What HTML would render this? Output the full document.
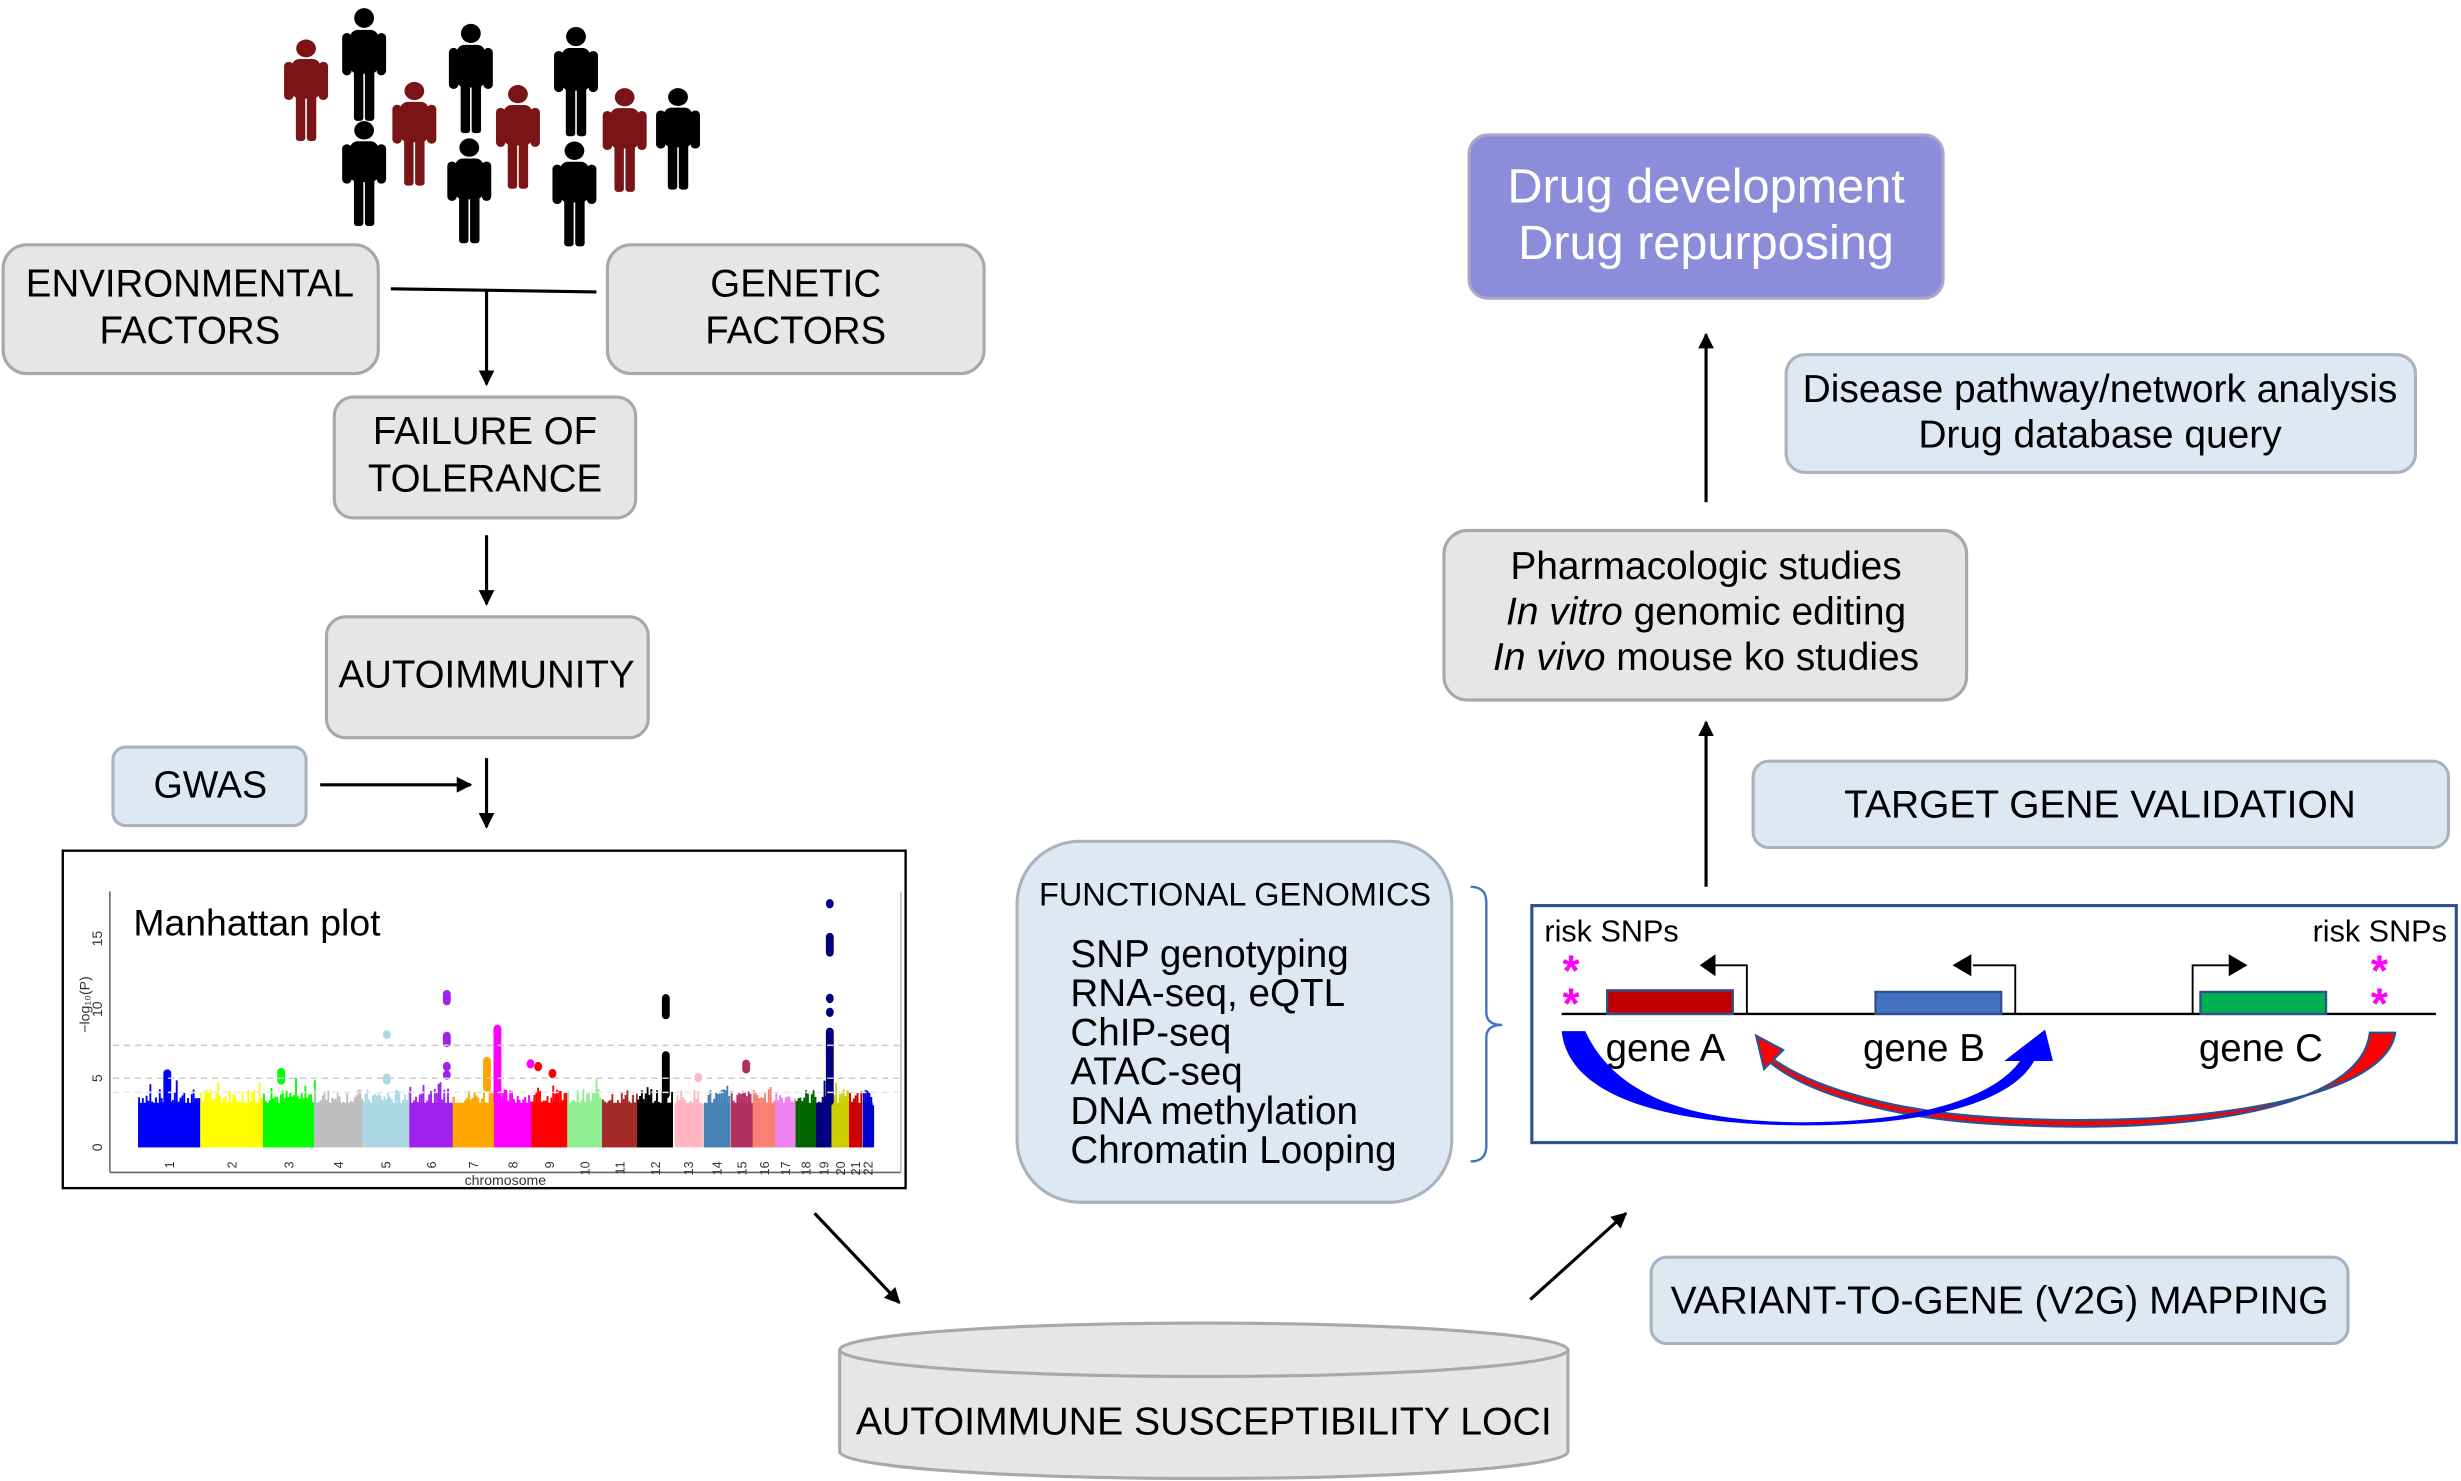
<!DOCTYPE html>
<html><head><meta charset="utf-8"><style>
html,body{margin:0;padding:0;background:#fff;}
svg{display:block;}
text{font-family:"Liberation Sans",Arial,sans-serif;}
</style></head><body>
<svg id="s" width="2461" height="1481" viewBox="0 0 1568 943.6" preserveAspectRatio="none" xmlns="http://www.w3.org/2000/svg">
<defs>
<marker id="ah" markerWidth="10" markerHeight="10" refX="9" refY="5" orient="auto" markerUnits="userSpaceOnUse" viewBox="0 0 10 10"><path d="M0,0 L10,5 L0,10 z" fill="#000"/></marker>
<g id="p">
<circle cx="14" cy="6.5" r="6.3"/>
<rect x="5" y="14" width="18" height="28" rx="5"/>
<rect x="0" y="16" width="6" height="27" rx="3"/>
<rect x="22" y="16" width="6" height="27" rx="3"/>
<rect x="7.5" y="38" width="6" height="34" rx="2"/>
<rect x="14.5" y="38" width="6" height="34" rx="2"/>
</g>
</defs>
<g fill="#000">
<use href="#p" transform="translate(218,5) scale(1,1)"/>
<use href="#p" transform="translate(286,15) scale(1,0.97)"/>
<use href="#p" transform="translate(353,17) scale(1,0.97)"/>
<use href="#p" transform="translate(418,56) scale(1,0.9)"/>
<use href="#p" transform="translate(218,77) scale(1,0.93)"/>
<use href="#p" transform="translate(285,88) scale(1,0.93)"/>
<use href="#p" transform="translate(352,90) scale(1,0.93)"/>
</g>
<g fill="#7b1416">
<use href="#p" transform="translate(181,25) scale(1,0.9)"/>
<use href="#p" transform="translate(250,52) scale(1,0.92)"/>
<use href="#p" transform="translate(316,54) scale(1,0.92)"/>
<use href="#p" transform="translate(384,56) scale(1,0.92)"/>
</g>

<g fill="#e6e6e6" stroke="#a8a8a8" stroke-width="2">
<rect x="2" y="156" width="239" height="82" rx="15"/>
<rect x="387" y="156" width="240" height="82" rx="15"/>
<rect x="213" y="253" width="192" height="77" rx="12"/>
<rect x="208" y="393" width="205" height="77" rx="12"/>
<rect x="920" y="338" width="333" height="108" rx="15"/>
</g>
<g font-size="24.5" text-anchor="middle" fill="#000">
<text x="121" y="189">ENVIRONMENTAL</text><text x="121" y="219">FACTORS</text>
<text x="507" y="189">GENETIC</text><text x="507" y="219">FACTORS</text>
<text x="309" y="283">FAILURE OF</text><text x="309" y="313">TOLERANCE</text>
<text x="310" y="438">AUTOIMMUNITY</text>
</g>
<g stroke="#000" stroke-width="2" fill="none">
<line x1="249" y1="184" x2="380" y2="186"/>
<line x1="310" y1="185" x2="310" y2="245" marker-end="url(#ah)"/>
<line x1="310" y1="341" x2="310" y2="385" marker-end="url(#ah)"/>
<line x1="204" y1="500" x2="300" y2="500" marker-end="url(#ah)"/>
<line x1="310" y1="483" x2="310" y2="527" marker-end="url(#ah)"/>
<line x1="519" y1="773" x2="573" y2="830" marker-end="url(#ah)"/>
<line x1="975" y1="828" x2="1036" y2="773" marker-end="url(#ah)"/>
<line x1="1087" y1="565" x2="1087" y2="460" marker-end="url(#ah)"/>
<line x1="1087" y1="320" x2="1087" y2="213" marker-end="url(#ah)"/>
</g>

<g fill="#dde8f3" stroke="#a9b3bf" stroke-width="2">
<rect x="72" y="476" width="123" height="50" rx="8"/>
<rect x="1052" y="801" width="444" height="55" rx="10"/>
<rect x="648" y="536" width="277" height="230" rx="40"/>
<rect x="1117" y="485" width="443" height="55" rx="10"/>
<rect x="1138" y="226" width="401" height="75" rx="12"/>
</g>
<g font-size="24.8" fill="#000">
<text x="134" y="508" text-anchor="middle" font-size="24">GWAS</text>
<text x="1274" y="837" text-anchor="middle">VARIANT-TO-GENE (V2G) MAPPING</text>
<text x="1338" y="521" text-anchor="middle">TARGET GENE VALIDATION</text>
<text x="1338" y="256" text-anchor="middle">Disease pathway/network analysis</text>
<text x="1338" y="285" text-anchor="middle">Drug database query</text>
<text x="1087" y="369" text-anchor="middle">Pharmacologic studies</text>
<text x="1087" y="398" text-anchor="middle"><tspan font-style="italic">In vitro</tspan> genomic editing</text>
<text x="1087" y="427" text-anchor="middle"><tspan font-style="italic">In vivo</tspan> mouse ko studies</text>
<text x="662" y="577" font-size="20.7">FUNCTIONAL GENOMICS</text>
<g font-size="24.6">
<text x="682" y="616">SNP genotyping</text>
<text x="682" y="641">RNA-seq, eQTL</text>
<text x="682" y="666">ChIP-seq</text>
<text x="682" y="691">ATAC-seq</text>
<text x="682" y="716">DNA methylation</text>
<text x="682" y="741">Chromatin Looping</text>
</g>
</g>
<path d="M937,565 Q947,565 947,575 L947,645 Q947,653 957,653 Q947,653 947,661 L947,730 Q947,740 937,740" fill="none" stroke="#4472c4" stroke-width="1.5"/>

<rect x="936" y="86" width="302" height="104" rx="12" fill="#8b8ddb" stroke="#a8a8c8" stroke-width="2"/>
<text x="1087" y="129" text-anchor="middle" font-size="31" fill="#fff">Drug development</text>
<text x="1087" y="165" text-anchor="middle" font-size="31" fill="#fff">Drug repurposing</text>

<path d="M535,860 L535,925 A232,17 0 0 0 999,925 L999,860" fill="#e6e6e6" stroke="#a8a8a8" stroke-width="2"/>
<ellipse cx="767" cy="860" rx="232" ry="17" fill="#e6e6e6" stroke="#a8a8a8" stroke-width="2"/>
<text x="767" y="914" text-anchor="middle" font-size="25">AUTOIMMUNE SUSCEPTIBILITY LOCI</text>

<rect x="976" y="577" width="589" height="151" fill="#fff" stroke="#2f4f8f" stroke-width="2"/>
<line x1="995" y1="646" x2="1552" y2="646" stroke="#000" stroke-width="1.5"/>
<rect x="1024" y="631" width="80" height="15" fill="#c00000" stroke="#2f4f8f" stroke-width="1.5"/>
<rect x="1195" y="632" width="80" height="14" fill="#4472c4" stroke="#2f4f8f" stroke-width="1.5"/>
<rect x="1402" y="632" width="80" height="14" fill="#00b050" stroke="#2f4f8f" stroke-width="1.5"/>
<g fill="none" stroke="#000" stroke-width="1.2">
<path d="M1113,646 L1113,615 L1092,615"/>
<path d="M1284,646 L1284,615 L1257,615"/>
<path d="M1397,646 L1397,615 L1420,615"/>
</g>
<path d="M1083,615 L1093,608 L1093,622 z"/>
<path d="M1244,615 L1256,608 L1256,622 z"/>
<path d="M1432,615 L1420,608 L1420,622 z"/>
<g font-size="19.5" fill="#000"><text x="984" y="600">risk SNPs</text><text x="1559" y="600" text-anchor="end">risk SNPs</text></g>
<g font-size="28" fill="#ff00ff" font-weight="bold" text-anchor="middle"><text x="1001" y="628">*</text><text x="1001" y="649">*</text><text x="1516" y="628">*</text><text x="1516" y="649">*</text></g>
<g font-size="24.5"><text x="1023" y="676">gene A</text><text x="1187" y="676">gene B</text><text x="1401" y="676">gene C</text></g>
<path d="M1510,658 L1526,658 C1520,700 1400,720 1270,712 C1200,708 1150,690 1130,675 L1136,669 L1119,660 L1124,681 L1128,677 C1150,695 1200,712 1270,716 C1400,724 1505,705 1510,658 z" fill="#ff0000" stroke="#2f4f8f" stroke-width="1.5"/>
<path d="M995,657 L1010,657 C1030,700 1080,715 1150,715 C1220,715 1270,700 1287,676 L1277,676 L1303,656 L1308,676 L1296,676 C1280,705 1220,717 1150,717 C1080,717 1000,705 995,657 z" fill="#0000ff"/>

<rect x="40" y="542" width="537" height="215" fill="#fff" stroke="#000" stroke-width="1.5"/>
<g id="mh"></g>
<line x1="70" y1="568" x2="70" y2="747" stroke="#666" stroke-width="1"/>
<line x1="70" y1="747" x2="574" y2="747" stroke="#666" stroke-width="1"/>
<line x1="574" y1="568" x2="574" y2="747" stroke="#bbb" stroke-width="1"/>
<g stroke="#ccc" stroke-width="1" stroke-dasharray="4,3">
<line x1="72" y1="666" x2="574" y2="666"/><line x1="72" y1="687" x2="574" y2="687"/><line x1="72" y1="696" x2="574" y2="696" stroke="#e6e6e6"/>
</g>
<g font-size="9" fill="#333" text-anchor="middle">
<text transform="translate(65,731) rotate(-90)">0</text>
<text transform="translate(65,687) rotate(-90)">5</text>
<text transform="translate(65,643) rotate(-90)">10</text>
<text transform="translate(65,598) rotate(-90)">15</text>
<text transform="translate(57,640) rotate(-90)">−log₁₀(P)</text>
</g>
<text x="85" y="596" font-size="23.8">Manhattan plot</text>
<text x="322" y="755" font-size="9" text-anchor="middle" fill="#333">chromosome</text>
<g id="cl" font-size="8" fill="#333"></g>
</svg>
<script>
(function(){
var NS="http://www.w3.org/2000/svg";
var g=document.getElementById('mh'),cl=document.getElementById('cl');
function X(z){return 88+(z-145)*0.3506;}
function Y(v){return 731-v*8.87;}
var seg=[[145,258,'#0000ff'],[258,372,'#ffff00'],[372,465,'#00ff00'],[465,553,'#bebebe'],[553,638,'#add8e6'],[638,717,'#a020f0'],[717,792,'#ffa500'],[792,860,'#ff00ff'],[860,925,'#ff0000'],[925,988,'#90ee90'],[988,1052,'#a52a2a'],[1052,1117,'#000000'],[1120,1170,'#ffb6c1'],[1173,1220,'#4682b4'],[1222,1262,'#b03060'],[1262,1303,'#fa8072'],[1303,1340,'#ee82ee'],[1340,1377,'#006400'],[1377,1405,'#000080'],[1405,1437,'#cdcd00'],[1437,1460,'#cc0000'],[1462,1480,'#0000cd']];
var seed=7;function r(){seed=(seed*9301+49297)%233280;return seed/233280;}
function el(n,a){var e=document.createElementNS(NS,n);for(var k in a)e.setAttribute(k,a[k]);g.appendChild(e);return e;}
seg.forEach(function(s,i){
 var x0=X(s[0]),x1=X(s[1]);
 el('rect',{x:x0,y:Y(3.2),width:x1-x0,height:Y(0)-Y(3.2),fill:s[2]});
 for(var x=x0;x<x1;x+=1.2){var h=3+r()*1.2;if(r()<0.08)h+=r()*1.5;el('rect',{x:x,y:Y(h),width:1.2,height:Y(0)-Y(h),fill:s[2]});}
 var t=document.createElementNS(NS,'text');var cx=(x0+x1)/2;
 t.setAttribute('transform','translate('+(cx+3)+',740) rotate(-90)');t.setAttribute('text-anchor','end');t.textContent=(i+1);cl.appendChild(t);
});
function col(z,a,b,c){el('rect',{x:X(z)-2.5,y:Y(b),width:5,height:Y(a)-Y(b),rx:2.5,fill:c});}
function dot(z,v,c){el('ellipse',{cx:X(z),cy:Y(v),rx:2.5,ry:3,fill:c});}
col(198,3,5.6,'#0000ff');col(597,4.5,5.3,'#add8e6');col(597,7.8,8.4,'#add8e6');
col(706,10.2,11.3,'#a020f0');col(706,7.2,8.3,'#a020f0');dot(706,5.8,'#a020f0');dot(706,5.2,'#a020f0');
col(779,4,6.5,'#ffa500');col(798,3,8.8,'#ff00ff');dot(858,6,'#ff00ff');dot(872,5.8,'#ff0000');dot(898,5.3,'#ff0000');
col(405,4.5,5.7,'#00ff00');col(1104,9.2,11,'#000');col(1104,3.5,6.9,'#000');col(1250,5.3,6.3,'#b03060');
col(1402,3,8.6,'#000080');dot(1402,9.7,'#000080');dot(1402,10.7,'#000080');col(1402,13.7,15.4,'#000080');dot(1402,17.5,'#000080');dot(1163,5,'#ffb6c1');
})();
</script>
</body></html>
